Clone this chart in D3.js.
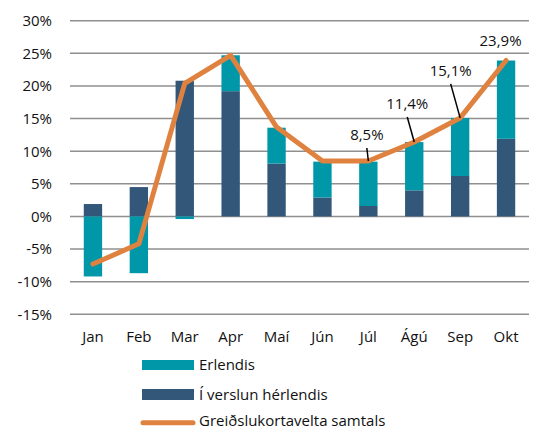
<!DOCTYPE html>
<html><head><meta charset="utf-8">
<script src="https://cdn.jsdelivr.net/npm/d3@7"></script>
<style>body{margin:0;background:#fff}svg{display:block}text{font-family:"Open Sans","Noto Sans",sans-serif;fill:#111}</style>
</head><body><svg id="c" width="537" height="430"></svg>
<script>
const months = ["Jan","Feb","Mar","Apr","Maí","Jún","Júl","Ágú","Sep","Okt"];
const domestic = [1.9, 4.5, 20.8, 19.2, 8.1, 2.9, 1.6, 4.0, 6.2, 11.9];
const foreign = [-9.2, -8.7, -0.4, 5.5, 5.5, 5.5, 6.8, 7.4, 8.9, 12.0];
const total = [-7.3, -4.2, 20.4, 24.7, 13.7, 8.5, 8.5, 11.4, 15.1, 23.9];
const labelIdx = [6, 7, 8, 9];
const labelText = ["8,5%", "11,4%", "15,1%", "23,9%"];
const yTicks = [30, 25, 20, 15, 10, 5, 0, -5, -10, -15];
const seriesNames = ["Erlendis", "Í verslun hérlendis", "Greiðslukortavelta samtals"];

const colDom = "#335779", colFor = "#0097A9", colLine = "#E0823F";
const svg = d3.select("#c");
const x = d3.scaleBand().domain(months).range([70, 529]).paddingInner(0.6).paddingOuter(0.3);
const y = d3.scaleLinear().domain([-15, 30]).range([314.3, 20.7]);

// grid
svg.append("g").selectAll("line").data(yTicks).join("line")
  .attr("x1", 70).attr("x2", 529).attr("y1", d => y(d)).attr("y2", d => y(d))
  .attr("stroke", "#8f8f8f").attr("stroke-width", 1.6);

// y axis labels
const yAxis = d3.axisLeft(y).tickValues(yTicks).tickSize(0).tickPadding(0).tickFormat(d => d + "%");
const ya = svg.append("g").attr("transform", "translate(52,0)").call(yAxis);
ya.select(".domain").remove();
ya.selectAll("text").style("font-size", "15px").attr("font-family", null).attr("fill", "#111");

// bars
const rows = months.map((m, i) => ({m, dom: domestic[i], for: foreign[i]}));
const stack = d3.stack().keys(["dom", "for"]).offset(d3.stackOffsetDiverging);
const series = stack(rows);
const cols = {dom: colDom, for: colFor};
svg.append("g").selectAll("g").data(series).join("g").attr("fill", s => cols[s.key])
  .selectAll("rect").data(s => s).join("rect")
  .attr("x", d => x(d.data.m)).attr("width", x.bandwidth())
  .attr("y", d => y(Math.max(d[0], d[1]))).attr("height", d => Math.abs(y(d[0]) - y(d[1])));

// line
const cx = m => x(m) + x.bandwidth() / 2;
svg.append("path").datum(total)
  .attr("d", d3.line().x((d, i) => cx(months[i])).y(d => y(d)))
  .attr("fill", "none").attr("stroke", colLine).attr("stroke-width", 5)
  .attr("stroke-linejoin", "round").attr("stroke-linecap", "round");

// x labels
const xAxis = d3.axisBottom(x).tickSize(0).tickPadding(0);
const xa = svg.append("g").attr("transform", "translate(0,331)").call(xAxis);
xa.select(".domain").remove();
xa.selectAll("text").style("font-size", "15px").attr("font-family", null).attr("fill", "#111").attr("dy", "0.75em");

// data labels (layout offsets)
const lblOff = [[-1.5, -21, -13], [-7, -33, -25], [-9.5, -42, -34], [-5.5, -14, null]];
labelIdx.forEach((idx, k) => {
  const px = cx(months[idx]), py = y(total[idx]);
  const o = lblOff[k];
  svg.append("text").attr("x", px + o[0]).attr("y", py + o[1]).attr("text-anchor", "middle")
    .style("font-size", "15px").text(labelText[k]);
  if (o[2] !== null) {
    svg.append("line").attr("x1", px + o[0]).attr("y1", py + o[2]).attr("x2", px).attr("y2", py)
      .attr("stroke", "#000").attr("stroke-width", 1.5);
  }
});

// legend
const lg = svg.append("g");
const ly = [365, 394.5, 422.7];
const lty = [365, 394.5, 420.5];
lg.append("rect").attr("x", 142).attr("y", ly[0] - 5).attr("width", 52).attr("height", 10).attr("fill", colFor);
lg.append("rect").attr("x", 142).attr("y", ly[1] - 5.5).attr("width", 52).attr("height", 11).attr("fill", colDom);
lg.append("line").attr("x1", 143).attr("x2", 193).attr("y1", ly[2]).attr("y2", ly[2])
  .attr("stroke", colLine).attr("stroke-width", 5).attr("stroke-linecap", "round");
seriesNames.forEach((n, i) => {
  lg.append("text").attr("x", 199).attr("y", lty[i]).attr("dy", "0.35em").style("font-size", "15px").text(n);
});
</script></body></html>
